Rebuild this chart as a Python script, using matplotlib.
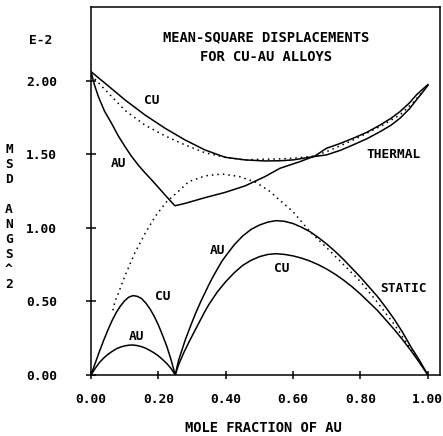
import matplotlib
matplotlib.use('Agg')
import matplotlib.pyplot as plt

# thermal part (units of 1E-2 ang^2)
x_cu_th = [0.0, 0.042, 0.101, 0.160, 0.220, 0.279, 0.338, 0.398, 0.457, 0.516, 0.56, 0.60, 0.66, 0.699, 0.74, 0.778, 0.82, 0.858, 0.89, 0.917, 0.945, 0.966, 0.985, 1.0]
cu_th = [2.063, 1.984, 1.871, 1.769, 1.678, 1.599, 1.531, 1.481, 1.463, 1.456, 1.457, 1.463, 1.485, 1.497, 1.528, 1.565, 1.608, 1.655, 1.698, 1.746, 1.81, 1.871, 1.925, 1.97]

x_au_th = [0.0, 0.01, 0.022, 0.04, 0.061, 0.08, 0.101, 0.120, 0.140, 0.160, 0.180, 0.200, 0.220, 0.249, 0.279, 0.338, 0.398, 0.457, 0.516, 0.561, 0.620, 0.665, 0.699, 0.74, 0.778, 0.82, 0.858, 0.89, 0.917, 0.945, 0.966, 0.985, 1.0]
au_th = [2.063, 1.975, 1.893, 1.795, 1.712, 1.63, 1.553, 1.488, 1.429, 1.376, 1.327, 1.276, 1.224, 1.151, 1.167, 1.206, 1.242, 1.286, 1.349, 1.406, 1.451, 1.49, 1.542, 1.575, 1.61, 1.652, 1.70, 1.745, 1.791, 1.85, 1.905, 1.945, 1.975]

x_avg_th = [0.0, 0.042, 0.101, 0.160, 0.220, 0.279, 0.338, 0.398, 0.457, 0.501, 0.55, 0.60, 0.665, 0.70, 0.739, 0.78, 0.828, 0.87, 0.917, 0.955, 0.986, 1.0]
avg_th = [2.04, 1.94, 1.80, 1.70, 1.626, 1.565, 1.512, 1.481, 1.463, 1.467, 1.469, 1.474, 1.49, 1.52, 1.558, 1.60, 1.655, 1.705, 1.769, 1.85, 1.93, 1.97]

# static part
x_cu_st1 = [0.0, 0.0125, 0.025, 0.0375, 0.05, 0.0625, 0.075, 0.0875, 0.10, 0.1125, 0.125, 0.1375, 0.15, 0.1625, 0.175, 0.1875, 0.20, 0.2125, 0.225, 0.2375, 0.25]
cu_st1 = [0.0, 0.08, 0.16, 0.235, 0.305, 0.37, 0.425, 0.47, 0.505, 0.53, 0.54, 0.535, 0.52, 0.49, 0.45, 0.40, 0.34, 0.27, 0.195, 0.105, 0.0]
x_au_st1 = [0.0, 0.0125, 0.025, 0.0375, 0.05, 0.0625, 0.075, 0.0875, 0.10, 0.1125, 0.125, 0.1375, 0.15, 0.1625, 0.175, 0.1875, 0.20, 0.2125, 0.225, 0.2375, 0.25]
au_st1 = [0.0, 0.045, 0.085, 0.115, 0.14, 0.16, 0.178, 0.19, 0.198, 0.203, 0.204, 0.20, 0.193, 0.182, 0.167, 0.15, 0.13, 0.105, 0.078, 0.045, 0.0]

x_au_st2 = [0.25, 0.255, 0.26, 0.27, 0.28, 0.29, 0.30, 0.3125, 0.325, 0.3375, 0.35, 0.3625, 0.375, 0.3875, 0.40, 0.425, 0.45, 0.475, 0.50, 0.525, 0.55, 0.575, 0.60, 0.625, 0.65, 0.675, 0.70, 0.725, 0.75, 0.775, 0.80, 0.825, 0.85, 0.875, 0.90, 0.925, 0.95, 0.975, 1.0]
au_st2 = [0.0, 0.05, 0.10, 0.17, 0.24, 0.30, 0.36, 0.43, 0.495, 0.555, 0.615, 0.67, 0.72, 0.77, 0.81, 0.885, 0.945, 0.99, 1.02, 1.04, 1.05, 1.045, 1.03, 1.005, 0.975, 0.935, 0.89, 0.84, 0.785, 0.725, 0.665, 0.60, 0.535, 0.46, 0.38, 0.29, 0.19, 0.10, 0.0]
x_cu_st2 = [0.25, 0.26, 0.275, 0.29, 0.30, 0.3125, 0.325, 0.3375, 0.35, 0.375, 0.40, 0.425, 0.45, 0.475, 0.50, 0.525, 0.55, 0.575, 0.60, 0.625, 0.65, 0.675, 0.70, 0.725, 0.75, 0.775, 0.80, 0.825, 0.85, 0.875, 0.90, 0.925, 0.95, 0.975, 1.0]
cu_st2 = [0.0, 0.07, 0.15, 0.22, 0.265, 0.32, 0.375, 0.43, 0.48, 0.565, 0.635, 0.695, 0.745, 0.78, 0.805, 0.82, 0.825, 0.82, 0.81, 0.795, 0.775, 0.75, 0.72, 0.685, 0.645, 0.60, 0.55, 0.495, 0.44, 0.375, 0.31, 0.24, 0.165, 0.085, 0.0]

x_avg_st = [0.065, 0.071, 0.081, 0.10, 0.13, 0.16, 0.19, 0.225, 0.26, 0.29, 0.34, 0.39, 0.44, 0.49, 0.53, 0.57, 0.60, 0.65, 0.70, 0.75, 0.80, 0.85, 0.90, 0.95, 1.0]
avg_st = [0.44, 0.50, 0.555, 0.67, 0.83, 0.96, 1.077, 1.18, 1.25, 1.315, 1.355, 1.367, 1.35, 1.31, 1.25, 1.17, 1.11, 0.975, 0.865, 0.75, 0.635, 0.495, 0.345, 0.175, 0.0]

xticks = [0.0, 0.2, 0.4, 0.6, 0.8, 1.0]
yticks = [0.0, 0.5, 1.0, 1.5, 2.0]

font = dict(family='DejaVu Sans Mono', weight='bold', size=9.3)
font_big = dict(family='DejaVu Sans Mono', weight='bold', size=9.9)

fig = plt.figure(figsize=(4.43, 4.36), dpi=100)
ax = fig.add_axes([91 / 443, 61 / 436, 349 / 443, 368 / 436])

lw = 1.1
dot = (0, (1, 2.6))
ax.plot(x_cu_th, cu_th, color='black', lw=lw)
ax.plot(x_au_th, au_th, color='black', lw=lw)
ax.plot(x_avg_th, avg_th, color='black', lw=1.1, linestyle=dot)
ax.plot(x_cu_st1, cu_st1, color='black', lw=lw)
ax.plot(x_au_st1, au_st1, color='black', lw=lw)
ax.plot(x_au_st2, au_st2, color='black', lw=lw)
ax.plot(x_cu_st2, cu_st2, color='black', lw=lw)
ax.plot(x_avg_st, avg_st, color='black', lw=1.1, linestyle=dot)

ax.set_xlim(0, 1.036)
ax.set_ylim(0, 2.503)
ax.set_xticks(xticks)
ax.set_yticks(yticks)
ax.set_xticklabels(['%.2f' % v for v in xticks], fontdict=font)
ax.set_yticklabels(['%.2f' % v for v in yticks], fontdict=font)
ax.tick_params(axis='y', direction='inout', length=7, width=1.1, pad=21)
ax.tick_params(axis='x', direction='inout', length=6, width=1.1, pad=10)
for s in ax.spines.values():
    s.set_linewidth(1.1)

# curve labels
ax.text(0.52, 2.30, 'MEAN-SQUARE DISPLACEMENTS', ha='center', va='center', fontdict=font_big)
ax.text(0.52, 2.166, 'FOR CU-AU ALLOYS', ha='center', va='center', fontdict=font_big)
ax.text(0.18, 1.87, 'CU', ha='center', va='center', fontdict=font)
ax.text(0.081, 1.44, 'AU', ha='center', va='center', fontdict=font)
ax.text(0.897, 1.497, 'THERMAL', ha='center', va='center', fontdict=font)
ax.text(0.375, 0.85, 'AU', ha='center', va='center', fontdict=font)
ax.text(0.566, 0.726, 'CU', ha='center', va='center', fontdict=font)
ax.text(0.927, 0.59, 'STATIC', ha='center', va='center', fontdict=font)
ax.text(0.212, 0.537, 'CU', ha='center', va='center', fontdict=font)
ax.text(0.1355, 0.26, 'AU', ha='center', va='center', fontdict=font)

fig.text(40.7 / 443, 1 - 40.7 / 436, 'E-2', ha='center', va='center', fontdict=font)
fig.text(9 / 443, 1 - 217 / 436, 'M\nS\nD\n\nA\nN\nG\nS\n^\n2', ha='center', va='center',
         linespacing=1.2, fontdict=font)
fig.text(263 / 443, 1 - 428 / 436, 'MOLE FRACTION OF AU', ha='center', va='center', fontdict=font_big)

plt.savefig('out.png', dpi=100)
